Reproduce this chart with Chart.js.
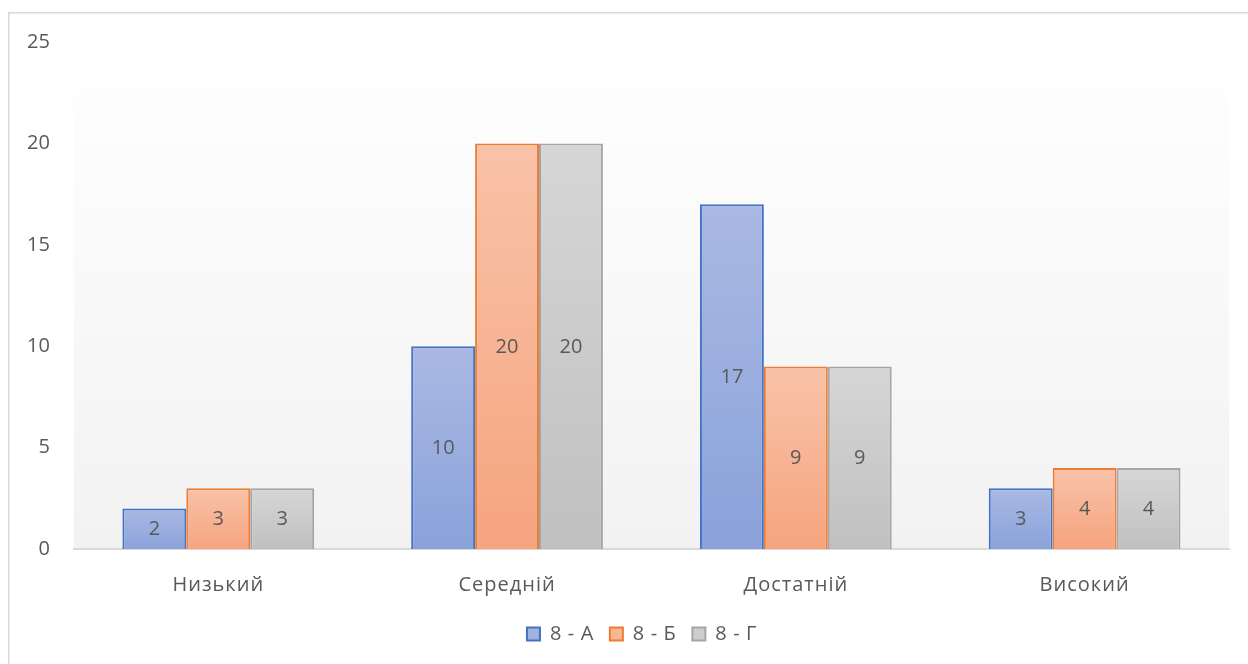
<!DOCTYPE html>
<html>
<head>
<meta charset="utf-8">
<script src="https://cdn.jsdelivr.net/npm/chart.js@4/dist/chart.umd.min.js"></script>
<style>
html,body{margin:0;padding:0;background:#fff;}
#wrap{width:1248px;height:664px;}
</style>
</head>
<body>
<div id="wrap"><canvas id="c" width="1248" height="664"></canvas></div>
<script>
const categories = ['Низький', 'Середній', 'Достатній', 'Високий'];
const series8A = [2, 10, 17, 3];
const series8B = [3, 20, 9, 4];
const series8G = [3, 20, 9, 4];
const seriesNames = ['8 - А', '8 - Б', '8 - Г'];
const yTicks = [0, 5, 10, 15, 20, 25];

const TEXT = '#595959';
const FONT = '"Open Sans", "Noto Sans", sans-serif';
const FS = 20;

const palettes = [
  {top: '#aab9e3', bottom: '#8aa2da', border: '#4472c4', legend: '#a0b2e0'},
  {top: '#f9c3a9', bottom: '#f5a47e', border: '#ed7d31', legend: '#f7b696'},
  {top: '#d6d6d6', bottom: '#c0c0c0', border: '#a5a5a5', legend: '#cdcdcd'}
];

function barGradient(idx) {
  return function(ctx) {
    const chart = ctx.chart;
    const pal = palettes[idx];
    if (ctx.type !== 'data' || !chart.chartArea || !chart.scales.y) return pal.legend;
    const ys = chart.scales.y;
    const yTop = ys.getPixelForValue(ctx.raw);
    const yBot = ys.getPixelForValue(0);
    if (!isFinite(yTop) || !isFinite(yBot) || yTop === yBot) return pal.legend;
    const g = chart.ctx.createLinearGradient(0, yTop, 0, yBot);
    g.addColorStop(0, pal.top);
    g.addColorStop(1, pal.bottom);
    return g;
  };
}

const LEGEND_TRIM = 13;
const LEGEND_SHIFT_X = 26;

const tweakPlugin = {
  id: 'tweakPlugin',
  beforeLayout(chart) {
    const lg = chart.legend;
    if (lg && !lg._patched) {
      lg._patched = true;
      const fit = lg.fit.bind(lg);
      lg.fit = function() {
        chart.ctx.save();
        chart.ctx.letterSpacing = '0.6px';
        fit();
        chart.ctx.restore();
        this.height -= LEGEND_TRIM;
      };
      const draw = lg.draw.bind(lg);
      lg.draw = function() {
        this.top -= LEGEND_TRIM;
        this.left += LEGEND_SHIFT_X;
        this.right += LEGEND_SHIFT_X;
        chart.ctx.save();
        chart.ctx.letterSpacing = '0.6px';
        draw();
        chart.ctx.restore();
        this.top += LEGEND_TRIM;
        this.left -= LEGEND_SHIFT_X;
        this.right -= LEGEND_SHIFT_X;
      };
    }
  },
  afterLayout(chart) {
    const s = chart.scales.x;
    if (s && !s._patched) {
      s._patched = true;
      const dl = s.drawLabels.bind(s);
      s.drawLabels = function(a) {
        chart.ctx.save();
        chart.ctx.letterSpacing = '1px';
        dl(a);
        chart.ctx.restore();
      };
    }
  },
  beforeDraw(chart) {
    const {ctx, chartArea} = chart;
    ctx.save();
    ctx.fillStyle = '#ffffff';
    ctx.fillRect(0, 0, chart.width, chart.height);
    ctx.strokeStyle = '#d9d9d9';
    ctx.lineWidth = 1.5;
    ctx.strokeRect(8.75, 12.75, 1300, 700);
    const g = ctx.createLinearGradient(0, chartArea.top, 0, chartArea.bottom);
    g.addColorStop(0, '#ffffff');
    g.addColorStop(1, '#f2f2f2');
    ctx.fillStyle = g;
    ctx.fillRect(chartArea.left, chartArea.top, chartArea.right - chartArea.left, chartArea.bottom - chartArea.top);
    ctx.restore();
  },
  afterDatasetsDraw(chart) {
    const ctx = chart.ctx;
    ctx.save();
    ctx.fillStyle = TEXT;
    ctx.font = FS + 'px ' + FONT;
    ctx.textAlign = 'center';
    ctx.textBaseline = 'middle';
    chart.data.datasets.forEach((ds, di) => {
      const meta = chart.getDatasetMeta(di);
      meta.data.forEach((el, i) => {
        const y = (el.y + el.base) / 2;
        ctx.fillText(String(ds.data[i]), el.x, y + 1);
      });
    });
    ctx.restore();
  }
};

const allSeries = [series8A, series8B, series8G];

new Chart(document.getElementById('c'), {
  type: 'bar',
  data: {
    labels: categories,
    datasets: allSeries.map((vals, i) => ({
      label: seriesNames[i],
      data: vals,
      backgroundColor: barGradient(i),
      borderColor: palettes[i].border,
      borderWidth: 2,
      borderSkipped: 'bottom',
      categoryPercentage: 0.664,
      barPercentage: 1.0
    }))
  },
  options: {
    responsive: false,
    animation: false,
    devicePixelRatio: 1,
    layout: {padding: {left: 3, right: 19, top: 42, bottom: 10}},
    plugins: {
      tooltip: {enabled: false},
      legend: {
        position: 'bottom',
        labels: {
          color: TEXT,
          font: {family: FONT, size: FS},
          boxWidth: 13,
          boxHeight: 13,
          padding: 16,
          generateLabels(chart) {
            return chart.data.datasets.map((ds, i) => ({
              text: ds.label,
              fillStyle: palettes[i].legend,
              strokeStyle: palettes[i].border,
              lineWidth: 2,
              fontColor: TEXT,
              datasetIndex: i,
              hidden: false
            }));
          }
        }
      }
    },
    scales: {
      x: {
        grid: {display: false, drawTicks: false},
        border: {display: true, color: '#d9d9d9', width: 2},
        ticks: {color: TEXT, font: {family: FONT, size: FS}, padding: 24}
      },
      y: {
        min: 0,
        max: 25,
        afterBuildTicks(scale) { scale.ticks = yTicks.map(v => ({value: v})); },
        grid: {display: false, drawTicks: false},
        border: {display: false},
        ticks: {color: TEXT, font: {family: FONT, size: FS}, padding: 24}
      }
    }
  },
  plugins: [tweakPlugin]
});
</script>
</body>
</html>
